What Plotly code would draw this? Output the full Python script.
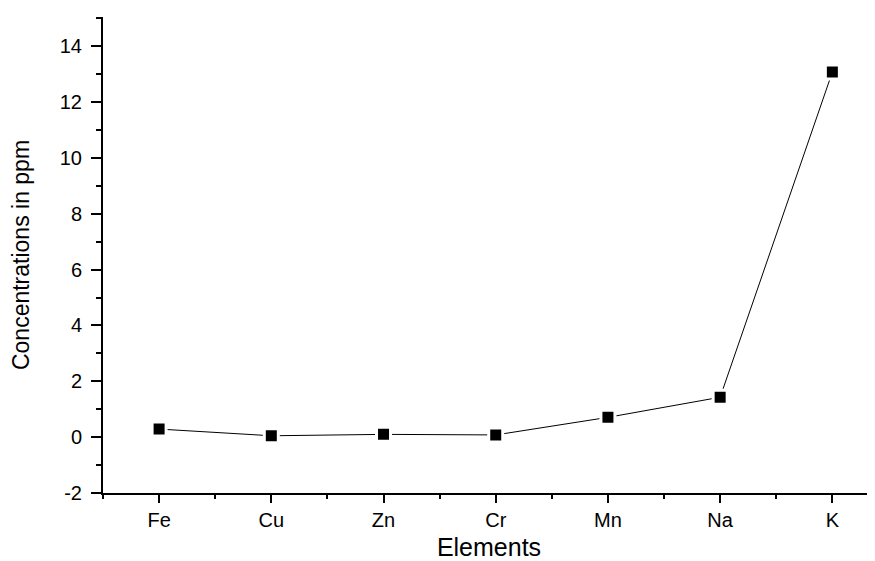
import plotly.graph_objects as go

elements = ["Fe", "Cu", "Zn", "Cr", "Mn", "Na", "K"]
concentrations = [0.29, 0.05, 0.10, 0.08, 0.71, 1.43, 13.08]
x_pos = [i + 1 for i in range(len(elements))]

y_ticks = [-2, 0, 2, 4, 6, 8, 10, 12, 14]
y_tick_labels = ["-2", "0", "2", "4", "6", "8", "10", "12", "14"]

font_family = "Liberation Sans, Arial, sans-serif"

fig = go.Figure()
fig.add_trace(go.Scatter(
    x=x_pos, y=concentrations, mode="lines+markers",
    line=dict(color="black", width=1),
    marker=dict(symbol="square", size=14, color="black",
                line=dict(color="white", width=3)),
    showlegend=False, cliponaxis=False,
))

# page body has an 8px margin; figure sized to fit the window
fig.update_layout(
    width=867, height=553,
    margin=dict(l=95, r=0, t=9, b=68),
    paper_bgcolor="white", plot_bgcolor="white",
    font=dict(family=font_family, color="black"),
)
fig.update_xaxes(
    automargin=False,
    range=[0.5, 7.38], tickmode="array", tickvals=x_pos, ticktext=elements,
    showline=True, linecolor="black", linewidth=2,
    ticks="outside", ticklen=8, tickwidth=2, tickcolor="black",
    minor=dict(tick0=0.5, dtick=1, ticks="outside", ticklen=4, tickwidth=2, tickcolor="black"),
    showgrid=False, zeroline=False,
    tickfont=dict(size=20),
    title=dict(text="Elements", font=dict(size=25), standoff=11),
)
fig.update_yaxes(
    automargin=False,
    range=[-2, 15.05], tickmode="array", tickvals=y_ticks, ticktext=y_tick_labels,
    showline=True, linecolor="black", linewidth=2,
    ticks="outside", ticklen=10, tickwidth=2, tickcolor="black",
    minor=dict(tick0=-1, dtick=2, ticks="outside", ticklen=5, tickwidth=2, tickcolor="black"),
    showgrid=False, zeroline=False,
    tickfont=dict(size=20), ticklabelstandoff=5,
    title=dict(text="Concentrations in ppm", font=dict(size=23), standoff=32),
)

fig.write_html("out.html")
